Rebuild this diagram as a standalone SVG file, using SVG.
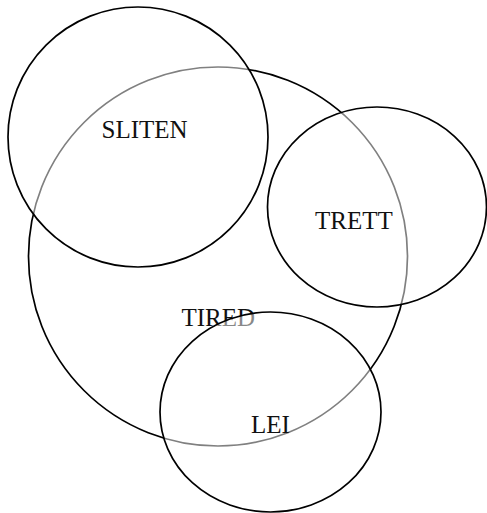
<svg xmlns="http://www.w3.org/2000/svg" width="487" height="513" viewBox="0 0 487 513">
<style>
.c{fill:#fff;fill-opacity:0.5;stroke:#000;stroke-width:1.7}
.b{fill:none;stroke:#000;stroke-width:1.7}
text{font-family:"Liberation Serif","Times New Roman",serif;font-size:25px;fill:#111}
</style>
<rect width="487" height="513" fill="#fff"/>
<g id="tired">
<circle class="b" cx="218" cy="256.5" r="189.5"/>
<text x="181.5" y="326">TIRED</text>
</g>
<g id="sliten">
<ellipse class="c" cx="138" cy="137" rx="130" ry="130"/>
<text x="101.5" y="138">SLITEN</text>
</g>
<g id="trett">
<ellipse class="c" cx="377" cy="207" rx="109.5" ry="100"/>
<text x="315" y="229">TRETT</text>
</g>
<g id="lei">
<ellipse class="c" cx="270.5" cy="412" rx="110.5" ry="100"/>
<text x="251" y="433">LEI</text>
</g>
<g id="connectors"/>
</svg>
